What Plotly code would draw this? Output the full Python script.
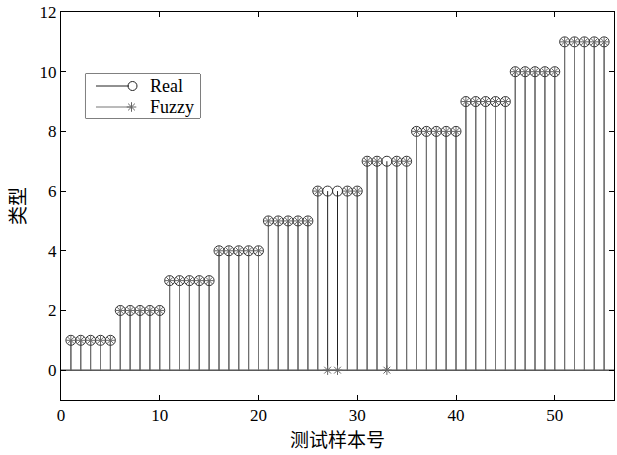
import plotly.graph_objects as go

samples = list(range(1, 56))
real = [c for c in range(1, 12) for _ in range(5)]
fuzzy = list(real)
for s in (27, 28, 33):
    fuzzy[s - 1] = 0

x_ticks = [0, 10, 20, 30, 40, 50]
y_ticks = [0, 2, 4, 6, 8, 10, 12]
legend_names = ["Real", "Fuzzy"]

def stem_xy(xs, ys):
    sx, sy = [], []
    for a, b in zip(xs, ys):
        sx += [a, a, None]
        sy += [0, b, None]
    return sx, sy

REAL_LINE = "#222222"
FUZZY_LINE = "#777777"
REAL_MK = dict(symbol="circle-open", size=10, color="#333333", line=dict(width=1))
FUZZY_MK = dict(symbol="asterisk-open", size=8, color="#666666", line=dict(width=1, color="#666666"))

fig = go.Figure()
# baseline
fig.add_trace(go.Scatter(x=[0, 56], y=[0, 0], mode="lines",
                         line=dict(color="black", width=1), showlegend=False, hoverinfo="skip"))
rx, ry = stem_xy(samples, real)
fig.add_trace(go.Scatter(x=rx, y=ry, mode="lines", line=dict(color=REAL_LINE, width=1),
                         showlegend=False, hoverinfo="skip"))
fx, fy = stem_xy(samples, fuzzy)
fig.add_trace(go.Scatter(x=fx, y=fy, mode="lines", line=dict(color=FUZZY_LINE, width=1),
                         showlegend=False, hoverinfo="skip"))
fig.add_trace(go.Scatter(x=samples, y=real, mode="markers", marker=REAL_MK,
                         showlegend=False, name="Real"))
fig.add_trace(go.Scatter(x=samples, y=fuzzy, mode="markers", marker=FUZZY_MK,
                         showlegend=False, name="Fuzzy"))

# legend box (MATLAB style) drawn on a small overlay axis
LX = [0.0443, 0.2514]
LY = [0.7268, 0.8402]
leg_rows = [12, 33]
fig.add_trace(go.Scatter(x=[10.5, 43.5], y=[leg_rows[0]] * 2, mode="lines",
                         line=dict(color=REAL_LINE, width=1), xaxis="x2", yaxis="y2",
                         showlegend=False, hoverinfo="skip"))
fig.add_trace(go.Scatter(x=[47], y=[leg_rows[0]], mode="markers",
                         marker=dict(symbol="circle-open", size=9, color=REAL_LINE, line=dict(width=1)),
                         xaxis="x2", yaxis="y2", showlegend=False, hoverinfo="skip"))
fig.add_trace(go.Scatter(x=[10.5, 46], y=[leg_rows[1]] * 2, mode="lines",
                         line=dict(color=FUZZY_LINE, width=1), xaxis="x2", yaxis="y2",
                         showlegend=False, hoverinfo="skip"))
fig.add_trace(go.Scatter(x=[46], y=[leg_rows[1]], mode="markers", marker=FUZZY_MK,
                         xaxis="x2", yaxis="y2", showlegend=False, hoverinfo="skip"))
for name, row in zip(legend_names, leg_rows):
    fig.add_annotation(x=62.5, y=row, xref="x2", yref="y2", text=name, showarrow=False,
                       xanchor="left", yanchor="middle",
                       font=dict(family="Liberation Serif", size=18, color="black"))
fig.add_shape(type="rect", xref="paper", yref="paper", x0=LX[0], x1=LX[1], y0=LY[0], y1=LY[1],
              line=dict(color="black", width=1), fillcolor="white", layer="below")

axis_common = dict(showgrid=False, zeroline=False, showline=True, linecolor="black", linewidth=1,
                   mirror="ticks", ticks="inside", ticklen=5, tickcolor="black",
                   tickfont=dict(family="Liberation Serif", size=17, color="black"))
fig.update_layout(
    xaxis=dict(range=[0, 56], tickvals=x_ticks, **axis_common,
               title=dict(text="测试样本号", font=dict(family="Noto Sans CJK SC", size=19, color="black"), standoff=4)),
    yaxis=dict(range=[-1, 12], tickvals=y_ticks, **axis_common,
               title=dict(text="类型", font=dict(family="Noto Sans CJK SC", size=19, color="black"), standoff=8)),
    xaxis2=dict(domain=LX, range=[0, 114.5], visible=False, anchor="y2"),
    yaxis2=dict(domain=LY, range=[44, 0], visible=False, anchor="x2"),
    width=617, height=455, margin=dict(l=61, r=3, t=12, b=55),
    plot_bgcolor="white", paper_bgcolor="white", showlegend=False,
)
fig.write_html("out.html")
